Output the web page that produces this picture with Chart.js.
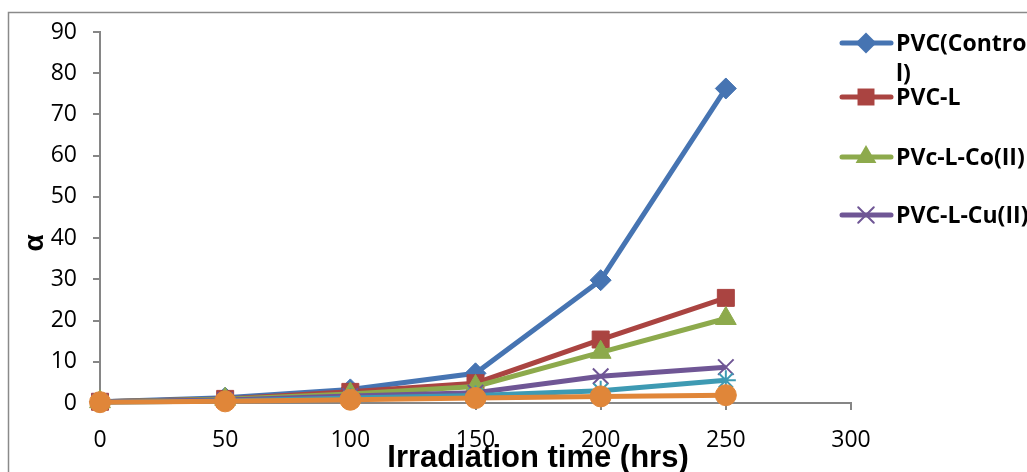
<!DOCTYPE html>
<html>
<head>
<meta charset="utf-8">
<script src="https://cdn.jsdelivr.net/npm/chart.js@4.4.1/dist/chart.umd.min.js"></script>
<style>
  html, body { margin: 0; padding: 0; background: #ffffff; }
  #wrap { width: 1027px; height: 472px; position: relative; }
  canvas { display: block; }
</style>
</head>
<body>
<div id="wrap"><canvas id="c" width="1027" height="472"></canvas></div>
<script>
// ---- data ----
const categories = [0, 50, 100, 150, 200, 250];
const seriesNames = ['PVC(Control)', 'PVC-L', 'PVc-L-Co(II)', 'PVC-L-Cu(II)', 'Series5', 'Series6'];
const pvcControl = [0.3, 1.3, 3.3, 7.2, 29.8, 76.3];
const pvcL       = [0.3, 1.0, 2.7, 4.8, 15.4, 25.5];
const pvcLCo     = [0.3, 0.9, 2.2, 4.0, 12.3, 20.5];
const pvcLCu     = [0.3, 0.7, 1.7, 2.5, 6.5, 8.7];
const series5    = [0.2, 0.5, 1.2, 1.8, 3.0, 5.5];
const series6    = [0.2, 0.4, 0.8, 1.2, 1.6, 1.9];
const xTicks = [0, 50, 100, 150, 200, 250, 300];
const yTicks = [0, 10, 20, 30, 40, 50, 60, 70, 80, 90];
const legendLines = [['PVC(Contro', 'l)'], ['PVC-L'], ['PVc-L-Co(II)'], ['PVC-L-Cu(II)']];
const xTitle = 'Irradiation time (hrs)';
const yTitle = 'α';

// ---- styling ----
const colors = ['#4674B2', '#AA4441', '#8DAA4C', '#6F5695', '#3E9AB3', '#E08639'];
const styles = ['rectRot', 'rect', 'triangle', 'crossRot', 'star', 'circle'];
const radii  = [10.5, 12, 12, 11, 10, 10.5];
const allSeries = [pvcControl, pvcL, pvcLCo, pvcLCu, series5, series6];

const datasets = allSeries.map((vals, i) => ({
  label: seriesNames[i],
  data: vals.map((v, j) => ({ x: categories[j], y: v })),
  borderColor: colors[i],
  backgroundColor: colors[i],
  borderWidth: 5,
  pointStyle: styles[i],
  pointRadius: radii[i],
  pointHoverRadius: radii[i],
  pointBorderWidth: (styles[i] === 'crossRot' || styles[i] === 'star') ? 2 : 1,
  pointBorderColor: colors[i],
  pointBackgroundColor: colors[i],
  tension: 0,
  clip: false,
  order: allSeries.length - i
}));

function drawMarker(ctx, style, x, y, r, color) {
  ctx.save();
  ctx.fillStyle = color;
  ctx.strokeStyle = color;
  ctx.beginPath();
  if (style === 'rectRot') {
    ctx.moveTo(x, y - r); ctx.lineTo(x + r, y); ctx.lineTo(x, y + r); ctx.lineTo(x - r, y);
    ctx.closePath(); ctx.fill();
  } else if (style === 'rect') {
    const s = Math.SQRT1_2 * r;
    ctx.rect(x - s, y - s, 2 * s, 2 * s); ctx.fill();
  } else if (style === 'triangle') {
    ctx.moveTo(x, y - r);
    ctx.lineTo(x + r * 0.866, y + r * 0.5);
    ctx.lineTo(x - r * 0.866, y + r * 0.5);
    ctx.closePath(); ctx.fill();
  } else if (style === 'crossRot') {
    const d = r * Math.SQRT1_2;
    ctx.lineWidth = 2;
    ctx.moveTo(x - d, y - d); ctx.lineTo(x + d, y + d);
    ctx.moveTo(x - d, y + d); ctx.lineTo(x + d, y - d);
    ctx.stroke();
  }
  ctx.restore();
}

const extras = {
  id: 'extras',
  beforeDraw(chart) {
    const ctx = chart.ctx;
    ctx.save();
    ctx.fillStyle = '#ffffff';
    ctx.fillRect(0, 0, chart.width, chart.height);
    ctx.strokeStyle = '#8a8a8a';
    ctx.lineWidth = 1.5;
    ctx.strokeRect(8.5, 12.5, 1200, 600);
    ctx.restore();
  },
  afterDraw(chart) {
    const ctx = chart.ctx;
    ctx.save();
    // legend (first four series, as in the reference)
    const ys = [43, 97, 157, 215];
    for (let i = 0; i < 4; i++) {
      const y = ys[i];
      ctx.strokeStyle = colors[i];
      ctx.lineWidth = 5;
      ctx.lineCap = 'round';
      ctx.beginPath(); ctx.moveTo(842, y); ctx.lineTo(891, y); ctx.stroke();
      drawMarker(ctx, styles[i], 866, y, radii[i], colors[i]);
      ctx.fillStyle = '#000000';
      ctx.font = 'bold 23px "Open Sans"';
      ctx.textBaseline = 'middle';
      ctx.textAlign = 'left';
      legendLines[i].forEach((t, k) => ctx.fillText(t, 896, y + 1 + k * 30));
    }
    // axis titles
    ctx.fillStyle = '#000000';
    ctx.font = 'bold 31px "Liberation Sans"';
    ctx.textAlign = 'center';
    ctx.textBaseline = 'alphabetic';
    ctx.fillText(xTitle, 538, 467);
    ctx.translate(35, 243);
    ctx.rotate(-Math.PI / 2);
    ctx.font = 'bold 28px "Liberation Sans"';
    ctx.textBaseline = 'middle';
    ctx.fillText(yTitle, 0, 0);
    ctx.restore();
  }
};

new Chart(document.getElementById('c'), {
  type: 'line',
  data: { datasets },
  options: {
    responsive: false,
    animation: false,
    layout: { padding: { left: 0, right: 176, top: 32, bottom: 0 } },
    plugins: { legend: { display: false }, tooltip: { enabled: false } },
    scales: {
      x: {
        type: 'linear',
        min: 0, max: 300,
        afterBuildTicks: (s) => { s.ticks = xTicks.map(v => ({ value: v })); },
        afterFit: (s) => { s.height = 69; },
        grid: { drawOnChartArea: false, drawTicks: true, tickLength: 7, color: '#868686', lineWidth: 2 },
        border: { color: '#868686', width: 2 },
        ticks: { color: '#000000', font: { family: '"Open Sans"', size: 23 }, padding: 17, maxRotation: 0 }
      },
      y: {
        type: 'linear',
        min: 0, max: 90,
        afterBuildTicks: (s) => { s.ticks = yTicks.map(v => ({ value: v })); },
        afterFit: (s) => { s.width = 100; },
        grid: { drawOnChartArea: false, drawTicks: true, tickLength: 7, color: '#868686', lineWidth: 2 },
        border: { color: '#868686', width: 2 },
        ticks: { color: '#000000', font: { family: '"Open Sans"', size: 23 }, padding: 16 }
      }
    }
  },
  plugins: [extras]
});
</script>
</body>
</html>
